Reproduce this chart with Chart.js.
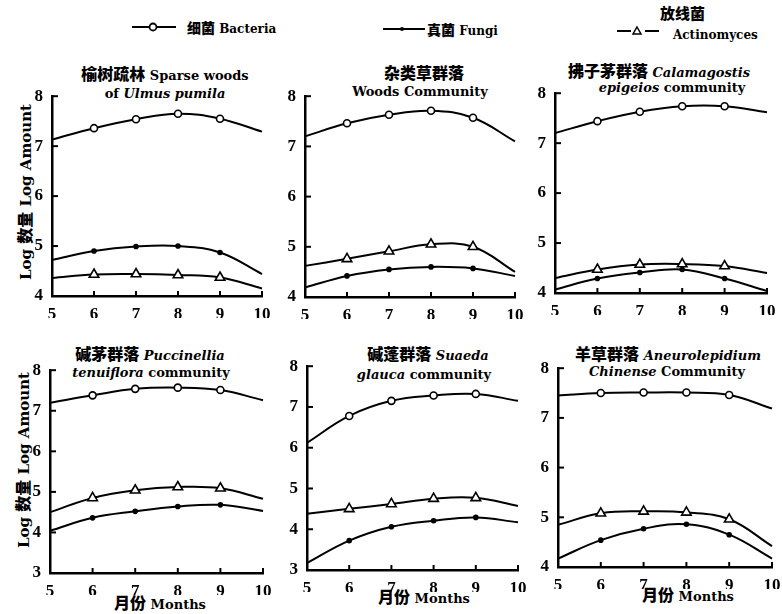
<!DOCTYPE html>
<html>
<head>
<meta charset="utf-8">
<script src="https://cdn.jsdelivr.net/npm/chart.js@4.4.0/dist/chart.umd.min.js"></script>
<style>
    body { margin: 0; background: #fff; }
    #page { position: relative; width: 782px; height: 614px; overflow: hidden; background: #fff;
            font-family: "DejaVu Serif", "Noto Sans CJK SC", serif; color: #000; }
    canvas { position: absolute; }
    .t { position: absolute; white-space: nowrap; font-weight: bold; font-size: 13px; line-height: 16px; }
    .lg { font-size: 12px; }
    .c { transform: translateX(-50%); }
    .cn { font-family: "Noto Sans CJK SC", sans-serif; font-size: 16px; font-weight: 900; }
    .lg .cn { font-size: 14px; }
    .ylab { position: absolute; transform: translate(-50%, -50%) rotate(-90deg); white-space: nowrap;
            font-weight: bold; font-size: 15px; font-family: "DejaVu Serif", "Noto Sans CJK SC", serif; }
    svg { position: absolute; }
</style>
</head>
<body>
<div id="page">
    <!-- legend -->
    <svg style="left:130px;top:19px" width="48" height="16">
        <line x1="2" y1="8" x2="46" y2="8" stroke="#000" stroke-width="2"/>
        <circle cx="23" cy="8" r="3.5" fill="#fff" stroke="#000" stroke-width="1.8"/>
    </svg>
    <div class="t lg" style="left:187px;top:19px"><span class="cn">细菌</span> Bacteria</div>
    <svg style="left:381px;top:21px" width="46" height="16">
        <line x1="2" y1="8" x2="44" y2="8" stroke="#000" stroke-width="2"/>
        <circle cx="21" cy="8" r="2" fill="#000"/>
    </svg>
    <div class="t lg" style="left:427px;top:21px"><span class="cn">真菌</span> Fungi</div>
    <svg style="left:615px;top:23px" width="46" height="16">
        <line x1="2" y1="8" x2="16" y2="8" stroke="#000" stroke-width="2"/>
        <polygon points="22,4 26,11 18,11" fill="#fff" stroke="#000" stroke-width="1.5"/>
        <line x1="30" y1="8" x2="44" y2="8" stroke="#000" stroke-width="2"/>
    </svg>
    <div class="t lg cn" style="left:660px;top:5px;font-size:15px">放线菌</div>
    <div class="t lg" style="left:673px;top:27px">Actinomyces</div>

    <!-- panel titles -->
    <div class="t c" style="left:165px;top:65px"><span class="cn">榆树疏林</span> Sparse woods</div>
    <div class="t c" style="left:165px;top:86px">of <i>Ulmus pumila</i></div>
    <div class="t c" style="left:424px;top:64px"><span class="cn">杂类草群落</span></div>
    <div class="t c" style="left:420px;top:84px">Woods Community</div>
    <div class="t c" style="left:659px;top:62px"><span class="cn">拂子茅群落</span> <i>Calamagostis</i></div>
    <div class="t c" style="left:672px;top:80px"><i>epigeios</i> community</div>

    <div class="t c" style="left:150px;top:345px"><span class="cn">碱茅群落</span> <i>Puccinellia</i></div>
    <div class="t c" style="left:151px;top:365px"><i>tenuiflora</i> community</div>
    <div class="t c" style="left:428px;top:345px"><span class="cn">碱蓬群落</span> <i>Suaeda</i></div>
    <div class="t c" style="left:424px;top:367px"><i>glauca</i> community</div>
    <div class="t c" style="left:668px;top:345px"><span class="cn">羊草群落</span> <i>Aneurolepidium</i></div>
    <div class="t c" style="left:667px;top:364px"><i>Chinense</i> Community</div>

    <!-- axis titles -->
    <div class="ylab" style="left:24px;top:192px">Log <span class="cn" style="font-size:16px">数量</span> Log Amount</div>
    <div class="ylab" style="left:22px;top:460px">Log <span class="cn" style="font-size:16px">数量</span> Log Amount</div>
    <div class="t c" style="left:160px;top:594px"><span class="cn">月份</span> Months</div>
    <div class="t c" style="left:424px;top:588px"><span class="cn">月份</span> Months</div>
    <div class="t c" style="left:688px;top:586px"><span class="cn">月份</span> Months</div>
</div>

<script>
// Months on the x axis
const months = [5, 6, 7, 8, 9, 10];
const monthTicks = [5, 6, 7, 8, 9, 10];

// Sparse woods of Ulmus pumila
const ulmusBacteria = [7.13, 7.36, 7.54, 7.65, 7.55, 7.29];
const ulmusFungi    = [4.72, 4.90, 4.99, 5.00, 4.87, 4.44];
const ulmusActino   = [4.36, 4.43, 4.44, 4.42, 4.37, 4.15];

// Woods community
const woodsBacteria = [7.20, 7.46, 7.63, 7.71, 7.57, 7.10];
const woodsFungi    = [4.19, 4.42, 4.55, 4.60, 4.57, 4.42];
const woodsActino   = [4.62, 4.76, 4.91, 5.05, 5.00, 4.50];

// Calamagrostis epigeios community
const calamBacteria = [7.20, 7.44, 7.63, 7.74, 7.74, 7.62];
const calamFungi    = [4.07, 4.29, 4.41, 4.47, 4.29, 4.04];
const calamActino   = [4.30, 4.47, 4.57, 4.58, 4.54, 4.40];

// Puccinellia tenuiflora community
const puccBacteria = [7.20, 7.38, 7.54, 7.57, 7.51, 7.26];
const puccFungi    = [4.04, 4.36, 4.52, 4.64, 4.68, 4.53];
const puccActino   = [4.50, 4.85, 5.04, 5.12, 5.09, 4.83];

// Suaeda glauca community
const suaedaBacteria = [6.12, 6.78, 7.15, 7.28, 7.32, 7.15];
const suaedaFungi    = [3.17, 3.72, 4.06, 4.21, 4.29, 4.17];
const suaedaActino   = [4.38, 4.50, 4.62, 4.75, 4.77, 4.57];

// Aneurolepidium chinense community
const aneurBacteria = [7.45, 7.50, 7.51, 7.51, 7.46, 7.19];
const aneurFungi    = [4.17, 4.54, 4.77, 4.86, 4.65, 4.17];
const aneurActino   = [4.85, 5.08, 5.12, 5.10, 4.96, 4.42];

// chart areas on the page: left, top, right, bottom (px)
const panels = [
    { bac: ulmusBacteria,  fun: ulmusFungi,  act: ulmusActino,  yMin: 4, area: [52, 93, 262, 296] },
    { bac: woodsBacteria,  fun: woodsFungi,  act: woodsActino,  yMin: 4, area: [305, 93, 515, 297] },
    { bac: calamBacteria,  fun: calamFungi,  act: calamActino,  yMin: 4, area: [555, 90, 767, 293] },
    { bac: puccBacteria,   fun: puccFungi,   act: puccActino,   yMin: 3, area: [50, 367, 263, 573] },
    { bac: suaedaBacteria, fun: suaedaFungi, act: suaedaActino, yMin: 3, area: [307, 363, 518, 570] },
    { bac: aneurBacteria,  fun: aneurFungi,  act: aneurActino,  yMin: 4, area: [558, 365, 772, 567] }
];

const Y_W = 30, X_H = 22, PAD_T = 8, PAD_R = 14;
const tickFont = { family: 'Liberation Serif', size: 17, weight: 'bold' };

// short tick marks drawn inside the plot like the printed figure
const innerTicks = {
    id: 'innerTicks',
    afterDraw(chart) {
        const ctx = chart.ctx, x = chart.scales.x, y = chart.scales.y;
        ctx.save();
        ctx.strokeStyle = '#000';
        ctx.lineWidth = 2;
        y.ticks.forEach(t => {
            const py = y.getPixelForValue(t.value);
            ctx.beginPath(); ctx.moveTo(x.left, py); ctx.lineTo(x.left + 6, py); ctx.stroke();
        });
        x.ticks.forEach(t => {
            const px = x.getPixelForValue(t.value);
            ctx.beginPath(); ctx.moveTo(px, y.bottom); ctx.lineTo(px, y.bottom - 5); ctx.stroke();
        });
        ctx.restore();
    }
};

function series(values, style, radius, fill) {
    return {
        data: months.map((m, i) => ({ x: m, y: values[i] })),
        borderColor: '#000',
        borderWidth: 2,
        tension: 0.4,
        pointStyle: style,
        pointRadius: values.map((v, i) => (i === 0 || i === values.length - 1) ? 0 : radius),
        pointBackgroundColor: fill,
        pointBorderColor: '#000',
        pointBorderWidth: 1.6,
        clip: false
    };
}

panels.forEach(p => {
    const [l, t, r, b] = p.area;
    const canvas = document.createElement('canvas');
    const w = Y_W + (r - l) + PAD_R;
    const h = PAD_T + (b - t) + X_H;
    canvas.width = w;
    canvas.height = h;
    canvas.style.left = (l - Y_W) + 'px';
    canvas.style.top = (t - PAD_T) + 'px';
    canvas.style.width = w + 'px';
    canvas.style.height = h + 'px';
    document.getElementById('page').appendChild(canvas);

    new Chart(canvas.getContext('2d'), {
        type: 'line',
        data: {
            datasets: [
                series(p.bac, 'circle', 3.5, '#fff'),
                series(p.fun, 'circle', 2, '#000'),
                series(p.act, 'triangle', 5.5, '#fff')
            ]
        },
        options: {
            responsive: false,
            animation: false,
            devicePixelRatio: 1,
            layout: { padding: { top: PAD_T, right: PAD_R, left: 0, bottom: 0 } },
            plugins: { legend: { display: false }, tooltip: { enabled: false } },
            scales: {
                x: {
                    type: 'linear',
                    min: 5,
                    max: 10,
                    afterBuildTicks: axis => { axis.ticks = monthTicks.map(v => ({ value: v })); },
                    afterFit: axis => { axis.height = X_H; },
                    grid: { display: false },
                    border: { display: true, color: '#000', width: 2.5 },
                    ticks: { color: '#000', font: tickFont, padding: 0, maxRotation: 0 }
                },
                y: {
                    min: p.yMin,
                    max: 8,
                    afterFit: axis => { axis.width = Y_W; },
                    grid: { display: false },
                    border: { display: true, color: '#000', width: 2.5 },
                    ticks: { color: '#000', font: tickFont, padding: 1, stepSize: 1 }
                }
            }
        },
        plugins: [innerTicks]
    });
});
</script>
</body>
</html>
